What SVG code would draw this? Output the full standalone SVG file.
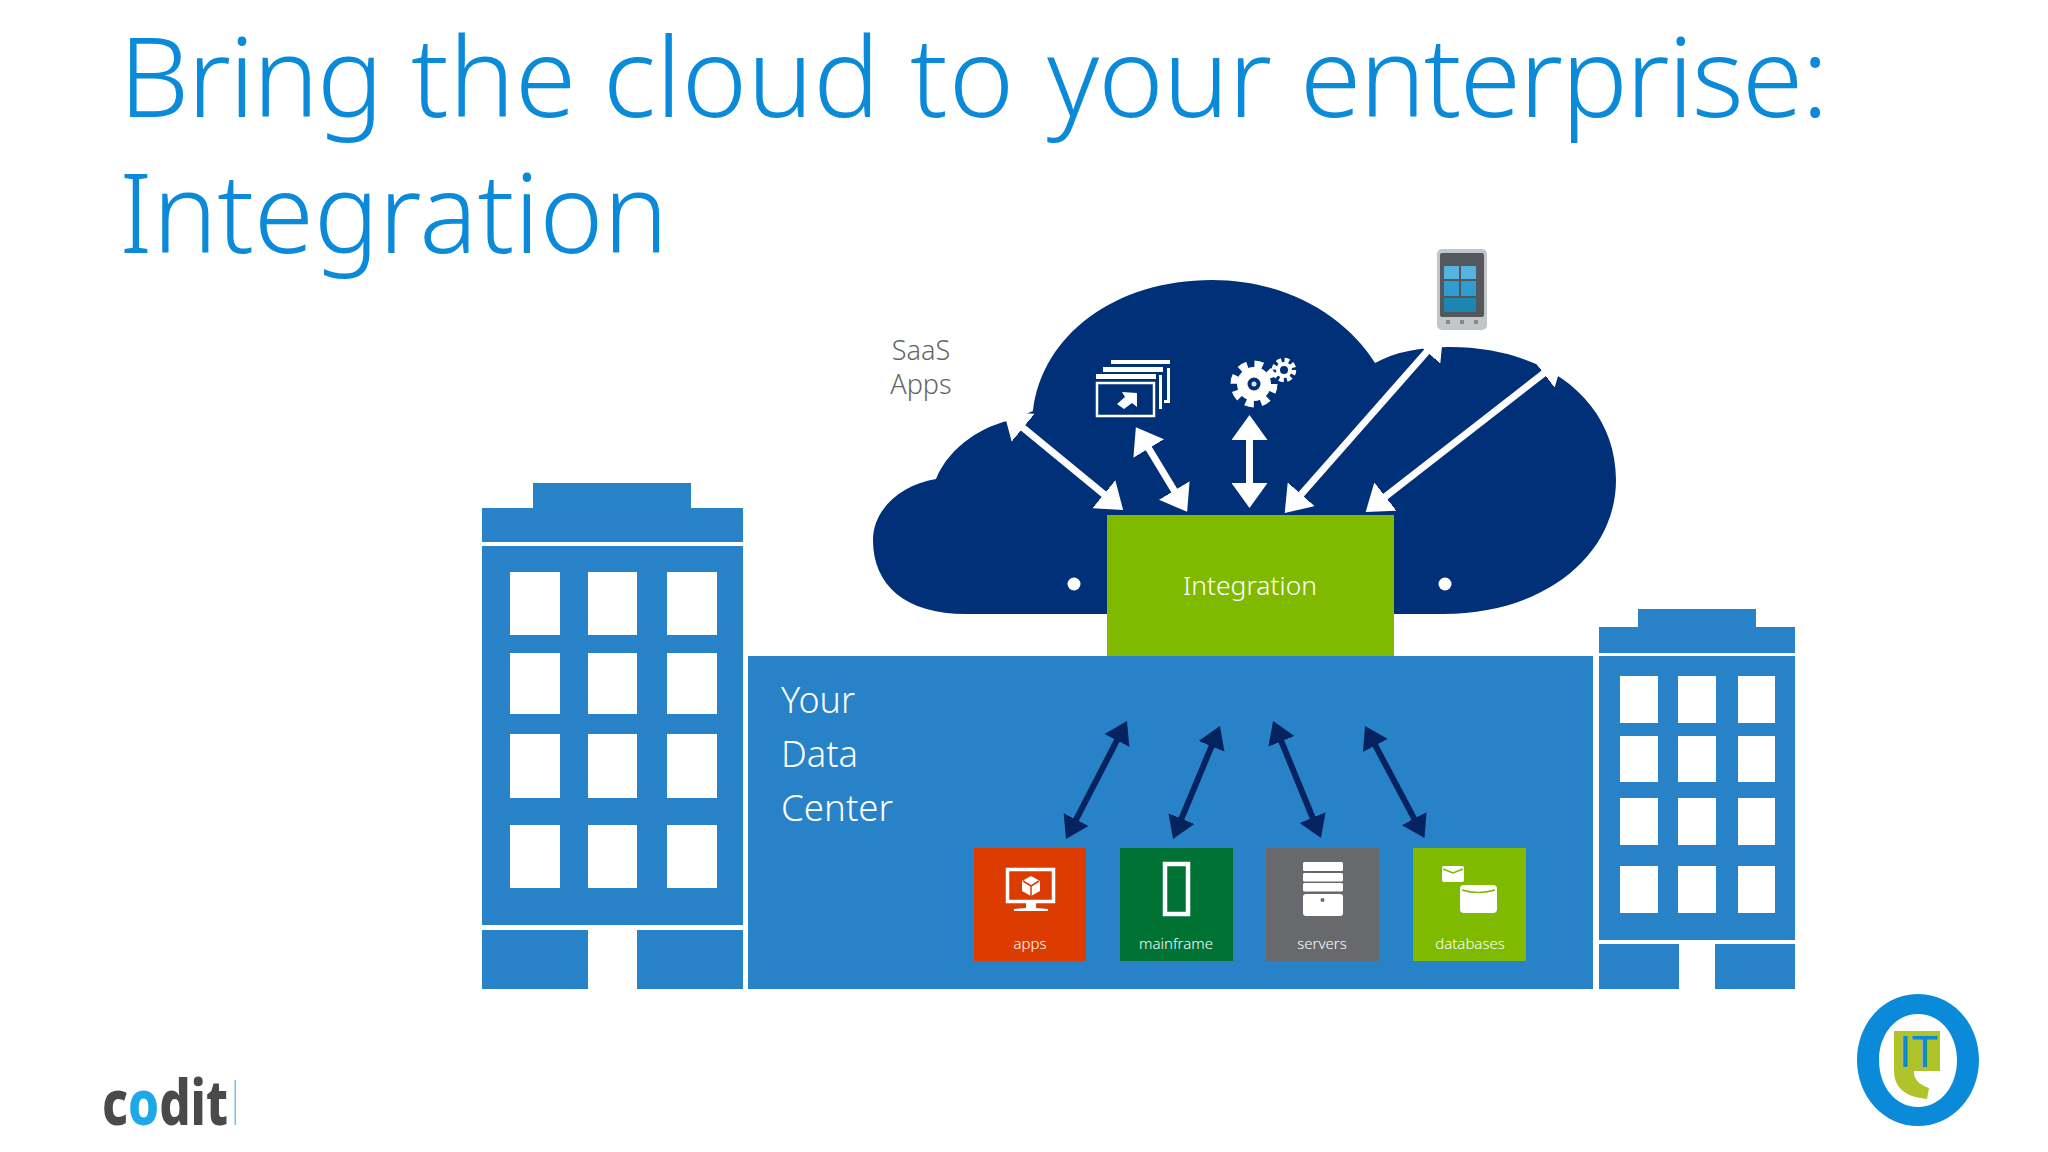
<svg xmlns="http://www.w3.org/2000/svg" width="2048" height="1152" viewBox="0 0 2048 1152">
<style>
.b{fill:#2882c8}.w{fill:#fff}.wo{fill:none;stroke:#fff}
text{font-family:"Noto Sans","Open Sans","Liberation Sans",sans-serif}
.title{font-size:111px;font-weight:300;fill:#0a8ad8}
.lbl{font-size:15px;fill:#fff;text-anchor:middle;font-weight:300}
.saas{font-size:27px;fill:#666;text-anchor:middle;font-weight:300}
.dc{font-size:37px;fill:#fff;font-weight:300}
.wa{stroke:#fff;stroke-width:7;marker-start:url(#hw);marker-end:url(#hw)}
.da{stroke:#06235f;stroke-width:6;marker-start:url(#hd);marker-end:url(#hd)}
</style>
<defs>
<marker id="hw" markerUnits="userSpaceOnUse" markerWidth="30" markerHeight="36" refX="17" refY="18" orient="auto-start-reverse" viewBox="0 0 30 36"><path d="M0 0L25 18L0 36Z" fill="#fff"/></marker>
<marker id="hd" markerUnits="userSpaceOnUse" markerWidth="26" markerHeight="28" refX="15" refY="14" orient="auto-start-reverse" viewBox="0 0 26 28"><path d="M0 0L22 14L0 28Z" fill="#06235f"/></marker>
</defs>
<rect width="2048" height="1152" fill="#fff"/>
<g id="title">
<text class="title" y="117"><tspan x="119" letter-spacing="-2">Bring</tspan> <tspan x="411">the</tspan> <tspan x="603">cloud</tspan> <tspan x="910" letter-spacing="1">to</tspan> <tspan x="1047" letter-spacing="-0.8">your</tspan> <tspan x="1300" letter-spacing="-1.8">enterprise:</tspan></text>
<text class="title" x="119" y="253" textLength="549" lengthAdjust="spacingAndGlyphs">Integration</text>
</g>
<g id="building-left" class="b">
<rect x="533" y="483" width="158" height="25"/><rect x="482" y="508" width="261" height="34"/>
<path fill-rule="evenodd" d="M482 546H743V925H482ZM510 572V635H560V572ZM588 572V635H637V572ZM667 572V635H717V572ZM510 653V714H560V653ZM588 653V714H637V653ZM667 653V714H717V653ZM510 734V798H560V734ZM588 734V798H637V734ZM667 734V798H717V734ZM510 825V888H560V825ZM588 825V888H637V825ZM667 825V888H717V825Z"/>
<rect x="482" y="930" width="106" height="59"/><rect x="637" y="930" width="106" height="59"/>
</g>
<g id="building-right" class="b">
<rect x="1638" y="609" width="118" height="19"/><rect x="1599" y="627" width="196" height="26"/>
<path fill-rule="evenodd" d="M1599 656H1795V940H1599ZM1620 676V723H1658V676ZM1678 676V723H1716V676ZM1738 676V723H1775V676ZM1620 736V782H1658V736ZM1678 736V782H1716V736ZM1738 736V782H1775V736ZM1620 798V845H1658V798ZM1678 798V845H1716V798ZM1738 798V845H1775V798ZM1620 866V913H1658V866ZM1678 866V913H1716V866ZM1738 866V913H1775V866Z"/>
<rect x="1599" y="944" width="80" height="45"/><rect x="1715" y="944" width="80" height="45"/>
</g>
<g id="cloud">
<path fill="#003078" d="M966 614C905 614 873 585 873 540C873 510 900 485 936 479C950 445 985 425 1012 420L1033 411C1042 335 1115 280 1212 280C1285 280 1345 315 1375 363C1395 352 1420 347 1450 347C1545 347 1616 400 1616 480C1616 555 1545 614 1443 614Z"/>
<circle class="w" cx="1074" cy="584" r="6.5"/><circle class="w" cx="1445" cy="584" r="6.5"/>
</g>
<g id="data-center">
<rect class="b" x="748" y="656" width="845" height="333"/>
<text class="dc" x="781" y="713" textLength="74" lengthAdjust="spacingAndGlyphs">Your</text>
<text class="dc" x="781" y="767" textLength="77" lengthAdjust="spacingAndGlyphs">Data</text>
<text class="dc" x="781" y="821" textLength="112" lengthAdjust="spacingAndGlyphs">Center</text>
</g>
<g id="integration">
<rect x="1107" y="515" width="287" height="141" fill="#7fba00"/>
<text x="1250" y="595" font-size="26" font-weight="300" fill="#fff" text-anchor="middle" textLength="134" lengthAdjust="spacingAndGlyphs">Integration</text>
</g>
<g id="saas-label"><text class="saas" x="921" y="360">SaaS</text><text class="saas" x="921" y="394">Apps</text></g>
<g id="saas-windows-icon">
<rect class="w" x="1111" y="360" width="59" height="4"/><rect class="w" x="1167" y="368" width="3" height="35"/><rect class="w" x="1164" y="400" width="6" height="3"/>
<rect class="w" x="1103" y="367" width="60" height="5"/><rect class="w" x="1159" y="375" width="3" height="34"/>
<rect class="w" x="1096" y="374" width="60" height="5"/>
<rect class="wo" x="1097" y="383" width="57" height="33" stroke-width="2.5"/>
<path class="w" d="M1137 393V407L1132 403L1124 409L1117 404L1125 397L1122 392Z"/>
</g>
<g id="gears-icon">
<circle cx="1254" cy="384" r="17" fill="#fff"/><circle cx="1254" cy="384" r="19" fill="none" stroke="#fff" stroke-width="9" stroke-dasharray="8 6.9"/>
<circle cx="1254" cy="384" r="6.5" fill="#003078"/><circle cx="1254" cy="384" r="2.5" fill="#dfe6f0"/>
<circle cx="1284" cy="370" r="8" fill="#fff"/><circle cx="1284" cy="370" r="9.5" fill="none" stroke="#fff" stroke-width="5.5" stroke-dasharray="4.5 3"/>
<circle cx="1284" cy="370" r="4" fill="#003078"/>
</g>
<g id="phone">
<rect x="1437" y="249" width="50" height="81" rx="5" fill="#c3c6c9"/>
<rect x="1440" y="253" width="44" height="64" rx="2" fill="#53585c"/>
<rect x="1444" y="266" width="15" height="13" fill="#58b2e0"/><rect x="1461" y="266" width="15" height="13" fill="#58b2e0"/>
<rect x="1444" y="281" width="15" height="15" fill="#2f9dd0"/><rect x="1461" y="281" width="15" height="15" fill="#2f9dd0"/>
<rect x="1444" y="298" width="32" height="14" fill="#1d86b0"/>
<rect x="1446" y="320" width="4" height="4" fill="#888"/><rect x="1460" y="320" width="4" height="4" fill="#888"/><rect x="1474" y="320" width="4" height="4" fill="#888"/>
</g>
<g id="apps">
<rect x="974" y="848" width="112" height="113" fill="#dc3c00"/>
<rect class="wo" x="1007.500" y="869.500" width="46" height="32" stroke-width="3.500"/>
<path class="w" d="M1026 903H1036V908L1048 909V911H1014V909L1026 908Z"/>
<path class="w" d="M1031 876L1040 881V891L1031 896L1022 891V881Z"/>
<path d="M1023 881L1031 886L1039 881M1031 886V896" fill="none" stroke="#dc3c00" stroke-width="1.500"/>
<text class="lbl" x="1030" y="949">apps</text>
</g>
<g id="mainframe">
<rect x="1120" y="848" width="113" height="113" fill="#007233"/>
<rect class="wo" x="1165" y="864" width="23" height="50" stroke-width="4.500"/>
<text class="lbl" x="1176" y="949">mainframe</text>
</g>
<g id="servers">
<rect x="1266" y="848" width="113" height="113" fill="#68696d"/>
<rect class="w" x="1303" y="862" width="40" height="9" rx="1.500"/><rect class="w" x="1303" y="873" width="40" height="8.500" rx="1.500"/><rect class="w" x="1303" y="883" width="40" height="8.500" rx="1.500"/><rect class="w" x="1303" y="894" width="40" height="22" rx="3"/>
<circle cx="1322.500" cy="900" r="2" fill="#68696d"/>
<text class="lbl" x="1322" y="949">servers</text>
</g>
<g id="databases">
<rect x="1413" y="848" width="113" height="113" fill="#7fba00"/>
<rect class="w" x="1442" y="866" width="22" height="16" rx="2"/>
<path d="M1443 869L1453 873L1463 869" fill="none" stroke="#7fba00" stroke-width="1.500"/>
<rect class="w" x="1460" y="885" width="37" height="28" rx="4"/>
<path d="M1462 890Q1478 895 1495 890" fill="none" stroke="#7fba00" stroke-width="1.500"/>
<text class="lbl" x="1470" y="949">databases</text>
</g>
<g id="connectors" fill="none">
<line class="wa" x1="1010" y1="417" x2="1117" y2="505"/>
<line class="wa" x1="1140" y1="434" x2="1183" y2="505"/>
<line class="wa" x1="1249.500" y1="423" x2="1249.500" y2="500"/>
<line class="wa" x1="1438" y1="339" x2="1290" y2="507"/>
<line class="wa" x1="1557" y1="363" x2="1372" y2="507"/>
<line class="da" x1="1123.800" y1="727.200" x2="1069.200" y2="832.800"/>
<line class="da" x1="1217.300" y1="732.500" x2="1175.700" y2="832.500"/>
<line class="da" x1="1275.700" y1="727.500" x2="1318.300" y2="831.500"/>
<line class="da" x1="1368.300" y1="732.200" x2="1421.200" y2="831.800"/>
</g>
<g id="codit-logo">
<text x="102" y="1125" font-size="62" font-weight="800" fill="#4a4a4c" textLength="126" lengthAdjust="spacingAndGlyphs">c<tspan fill="#1fa8e8">o</tspan>dit</text>
<rect x="234.500" y="1080" width="1.500" height="45" fill="#6cc4ea"/>
</g>
<g id="it-logo">
<path fill="#0a8ad8" fill-rule="evenodd" d="M1918 994C1953 994 1979 1024 1979 1060C1979 1096 1953 1126 1918 1126C1883 1126 1857 1096 1857 1060C1857 1024 1883 994 1918 994ZM1918 1014C1895 1014 1879 1035 1879 1060C1879 1086 1895 1107 1918 1107C1941 1107 1957 1086 1957 1060C1957 1035 1941 1014 1918 1014Z"/>
<path fill="#afc42a" d="M1894 1031H1940V1071H1914C1913 1079 1920 1085 1929 1088L1927 1099C1908 1097 1894 1090 1894 1070Z"/>
<text x="1899" y="1067" font-size="44" fill="#0a8ad8" style="font-family:'Liberation Sans',sans-serif">IT</text>
</g>
</svg>
